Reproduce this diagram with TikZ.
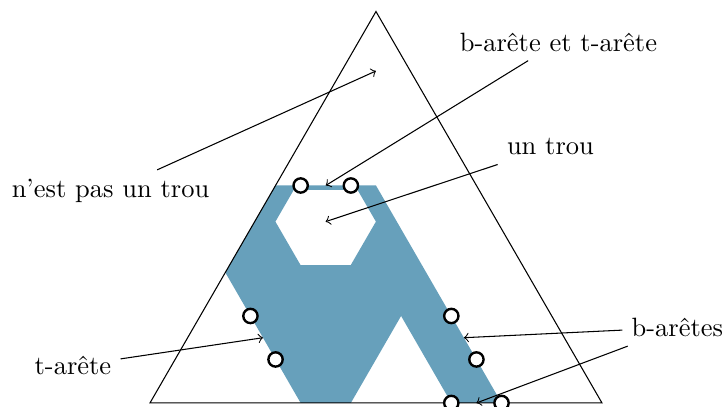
\documentclass[tikz,border=0pt]{standalone}
\usepackage{tikz}
\definecolor{troublue}{RGB}{103,160,187}
\tikzset{
  zone/.style={fill=troublue, draw=none},
  sommet/.style={circle, draw=black, fill=white, line width=0.9pt,
                 inner sep=0pt, minimum size=5.4pt},
  fleche/.style={->}
}

\begin{document}
\begin{tikzpicture}[x={(0.66667cm,0cm)}, y={(0.33333cm,0.57735cm)}]
  \useasboundingbox (-1.991cm,-0.053cm) rectangle (7.633cm,5.349cm);

  % la region bleue, avec son trou
  \fill[zone, even odd rule]
    (0,5) -- (2,5) -- (7,0) -- (6,0) -- (4,2) -- (4,0) -- (3,0) -- (0,3) -- cycle
    (1.665cm,2.407cm) -- (1.999cm,1.830cm) -- (2.665cm,1.830cm)
      -- (2.999cm,2.407cm) -- (2.756cm,2.827cm) -- (1.908cm,2.827cm) -- cycle;

  % le triangle
  \draw (0,0) -- (9,0) -- (0,9) -- cycle;

  % points vises
  \coordinate (dehors) at (3cm,4.407cm);
  \coordinate (trou)   at (2.332cm,2.407cm);
  \coordinate (mhaut)  at (1,5);
  \coordinate (mt)     at (1.5,1.5);
  \coordinate (mb1)    at (5.5,1.5);
  \coordinate (mb2)    at (6.5,0);

  % etiquettes
  \node (npas)  at (-0.524cm,2.814cm) {n'est pas un trou};
  \node (bt)    at (5.422cm,4.792cm)  {b-arête et t-arête};
  \node (untr)  at (5.316cm,3.398cm)  {un trou};
  \node (tar)   at (-1.023cm,0.491cm) {t-arête};
  \node (bar)   at (7.001cm,1.002cm)  {b-arêtes};

  \draw[fleche] (npas) -- (dehors);
  \draw[fleche] (bt)   -- (mhaut);
  \draw[fleche] (untr) -- (trou);
  \draw[fleche] (tar)  -- (mt);
  \draw[fleche] (bar)  -- (mb1);
  \draw[fleche] (bar)  -- (mb2);

  % sommets des aretes
  \node[sommet] (h1) at (0.5,5) {};
  \node[sommet] (h2) at (1.5,5) {};
  \node[sommet] (t1) at (1,2)   {};
  \node[sommet] (t2) at (2,1)   {};
  \node[sommet] (b1) at (5,2)   {};
  \node[sommet] (b2) at (6,1)   {};
  \node[sommet] (b3) at (6,0)   {};
  \node[sommet] (b4) at (7,0)   {};
\end{tikzpicture}
\end{document}
